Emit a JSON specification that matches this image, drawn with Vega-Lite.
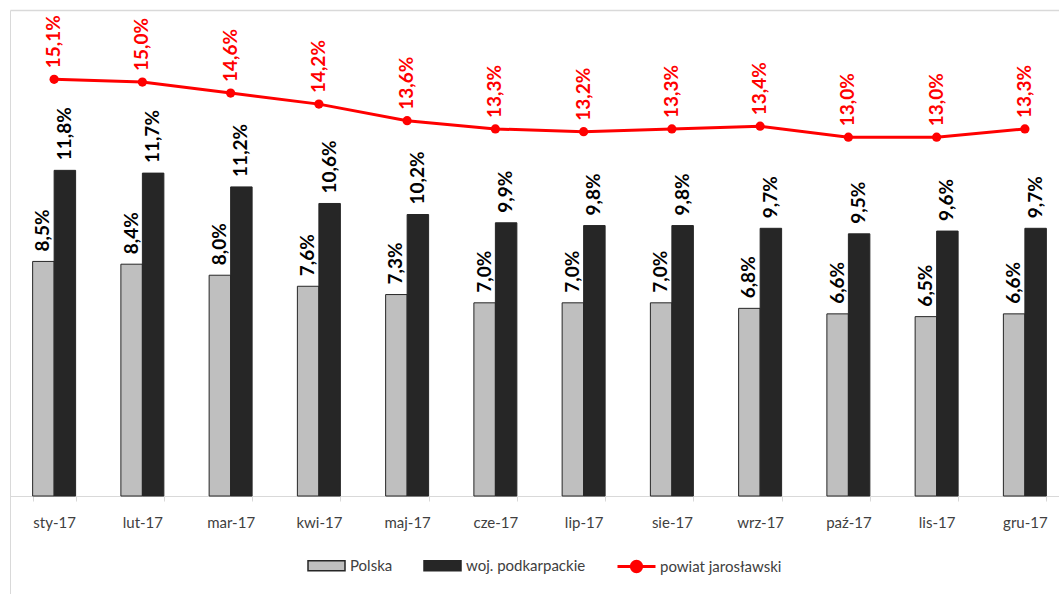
{
  "$schema": "https://vega.github.io/schema/vega-lite/v6.json",
  "width": 1049,
  "height": 584,
  "autosize": {"type": "none"},
  "padding": {"left": 10, "top": 10, "right": 0, "bottom": 0},
  "background": "white",
  "config": {
    "view": {"stroke": null},
    "font": "Lato",
    "locale": {"number": {"decimal": ",", "thousands": " ", "grouping": [3], "currency": ["", " zł"]}}
  },
  "data": {
    "values": [
      {"month": "sty-17", "series": "Polska", "value": 0.085},
      {"month": "lut-17", "series": "Polska", "value": 0.084},
      {"month": "mar-17", "series": "Polska", "value": 0.080},
      {"month": "kwi-17", "series": "Polska", "value": 0.076},
      {"month": "maj-17", "series": "Polska", "value": 0.073},
      {"month": "cze-17", "series": "Polska", "value": 0.070},
      {"month": "lip-17", "series": "Polska", "value": 0.070},
      {"month": "sie-17", "series": "Polska", "value": 0.070},
      {"month": "wrz-17", "series": "Polska", "value": 0.068},
      {"month": "paź-17", "series": "Polska", "value": 0.066},
      {"month": "lis-17", "series": "Polska", "value": 0.065},
      {"month": "gru-17", "series": "Polska", "value": 0.066},
      {"month": "sty-17", "series": "woj. podkarpackie", "value": 0.118},
      {"month": "lut-17", "series": "woj. podkarpackie", "value": 0.117},
      {"month": "mar-17", "series": "woj. podkarpackie", "value": 0.112},
      {"month": "kwi-17", "series": "woj. podkarpackie", "value": 0.106},
      {"month": "maj-17", "series": "woj. podkarpackie", "value": 0.102},
      {"month": "cze-17", "series": "woj. podkarpackie", "value": 0.099},
      {"month": "lip-17", "series": "woj. podkarpackie", "value": 0.098},
      {"month": "sie-17", "series": "woj. podkarpackie", "value": 0.098},
      {"month": "wrz-17", "series": "woj. podkarpackie", "value": 0.097},
      {"month": "paź-17", "series": "woj. podkarpackie", "value": 0.095},
      {"month": "lis-17", "series": "woj. podkarpackie", "value": 0.096},
      {"month": "gru-17", "series": "woj. podkarpackie", "value": 0.097},
      {"month": "sty-17", "series": "powiat jarosławski", "value": 0.151},
      {"month": "lut-17", "series": "powiat jarosławski", "value": 0.150},
      {"month": "mar-17", "series": "powiat jarosławski", "value": 0.146},
      {"month": "kwi-17", "series": "powiat jarosławski", "value": 0.142},
      {"month": "maj-17", "series": "powiat jarosławski", "value": 0.136},
      {"month": "cze-17", "series": "powiat jarosławski", "value": 0.133},
      {"month": "lip-17", "series": "powiat jarosławski", "value": 0.132},
      {"month": "sie-17", "series": "powiat jarosławski", "value": 0.133},
      {"month": "wrz-17", "series": "powiat jarosławski", "value": 0.134},
      {"month": "paź-17", "series": "powiat jarosławski", "value": 0.130},
      {"month": "lis-17", "series": "powiat jarosławski", "value": 0.130},
      {"month": "gru-17", "series": "powiat jarosławski", "value": 0.133}
    ]
  },
  "layer": [
    {
      "transform": [{"filter": "datum.series !== 'powiat jarosławski'"}],
      "encoding": {
        "x": {
          "field": "month", "type": "nominal",
          "sort": ["sty-17","lut-17","mar-17","kwi-17","maj-17","cze-17","lip-17","sie-17","wrz-17","paź-17","lis-17","gru-17"],
          "scale": {"range": [0, 1059], "paddingInner": 0.513, "paddingOuter": 0.2565},
          "axis": {"orient": "bottom", "offset": -98, "title": null, "labelAngle": 0, "labelFontSize": 15, "labelColor": "#404040", "labelPadding": 14, "domainColor": "#d9d9d9", "tickColor": "#d9d9d9", "tickSize": 5, "tickBand": "extent", "grid": false}
        },
        "xOffset": {"field": "series", "type": "nominal", "sort": ["Polska", "woj. podkarpackie"], "scale": {"paddingInner": 0, "paddingOuter": 0}},
        "y": {
          "field": "value", "type": "quantitative",
          "scale": {"domain": [-0.0355, 0.1761], "nice": false, "zero": false},
          "axis": {"domainColor": "#d9d9d9", "ticks": false, "labels": false, "grid": false, "title": null}
        }
      },
      "layer": [
        {
          "mark": {"type": "bar", "stroke": "#262626", "strokeWidth": 1},
          "encoding": {
            "y2": {"datum": 0},
            "fill": {
              "field": "series", "type": "nominal",
              "scale": {"domain": ["Polska", "woj. podkarpackie"], "range": ["#bfbfbf", "#262626"]},
              "legend": {
                "orient": "none", "legendX": 297, "legendY": 536, "direction": "horizontal", "title": null,
                "symbolType": "M-1,-0.27H1V0.27H-1Z", "symbolSize": 1369,
                "labelFontSize": 15, "labelColor": "#404040", "labelOffset": 4, "columnPadding": 28, "padding": 0,
                "encode": {"symbols": {"update": {"stroke": {"value": "#262626"}, "strokeWidth": {"value": 1}}}}
              }
            }
          }
        },
        {
          "mark": {"type": "text", "angle": -90, "align": "left", "baseline": "middle", "dx": 10, "fontSize": 19, "fontWeight": "bold", "color": "#000000"},
          "encoding": {"text": {"field": "value", "type": "quantitative", "format": ".1%"}}
        }
      ]
    },
    {
      "transform": [{"filter": "datum.series === 'powiat jarosławski'"}],
      "encoding": {
        "x": {
          "field": "month", "type": "nominal",
          "sort": ["sty-17","lut-17","mar-17","kwi-17","maj-17","cze-17","lip-17","sie-17","wrz-17","paź-17","lis-17","gru-17"],
          "scale": {"range": [0, 1059], "paddingInner": 0.513, "paddingOuter": 0.2565},
          "axis": {"orient": "top", "labels": false, "ticks": false, "title": null, "domainColor": "#d9d9d9", "domainWidth": 1.5, "grid": false}
        },
        "y": {
          "field": "value", "type": "quantitative",
          "scale": {"domain": [-0.0355, 0.1761], "nice": false, "zero": false},
          "axis": {"domainColor": "#d9d9d9", "ticks": false, "labels": false, "grid": false, "title": null}
        }
      },
      "layer": [
        {
          "mark": {"type": "line", "strokeWidth": 3},
          "encoding": {
            "stroke": {
              "field": "series", "type": "nominal",
              "scale": {"domain": ["powiat jarosławski"], "range": ["#ff0000"]},
              "legend": {
                "orient": "none", "legendX": 606, "legendY": 536, "title": null,
                "symbolType": "M-1,0H1M-0.27,0A0.27,0.27 0 1,1 0.27,0A0.27,0.27 0 1,1 -0.27,0Z", "symbolSize": 1444, "symbolStrokeWidth": 3,
                "labelFontSize": 15, "labelColor": "#404040", "labelOffset": 3, "padding": 0,
                "encode": {"symbols": {"update": {"fill": {"value": "#ff0000"}, "stroke": {"value": "#ff0000"}}}}
              }
            }
          }
        },
        {
          "mark": {"type": "point", "filled": true, "size": 85, "color": "#ff0000", "opacity": 1}
        },
        {
          "mark": {"type": "text", "angle": -90, "align": "left", "baseline": "middle", "dx": 11, "fontSize": 19, "fontWeight": "bold", "color": "#ff0000"},
          "encoding": {"text": {"field": "value", "type": "quantitative", "format": ".1%"}}
        }
      ]
    }
  ],
  "resolve": {"axis": {"x": "independent"}}
}
